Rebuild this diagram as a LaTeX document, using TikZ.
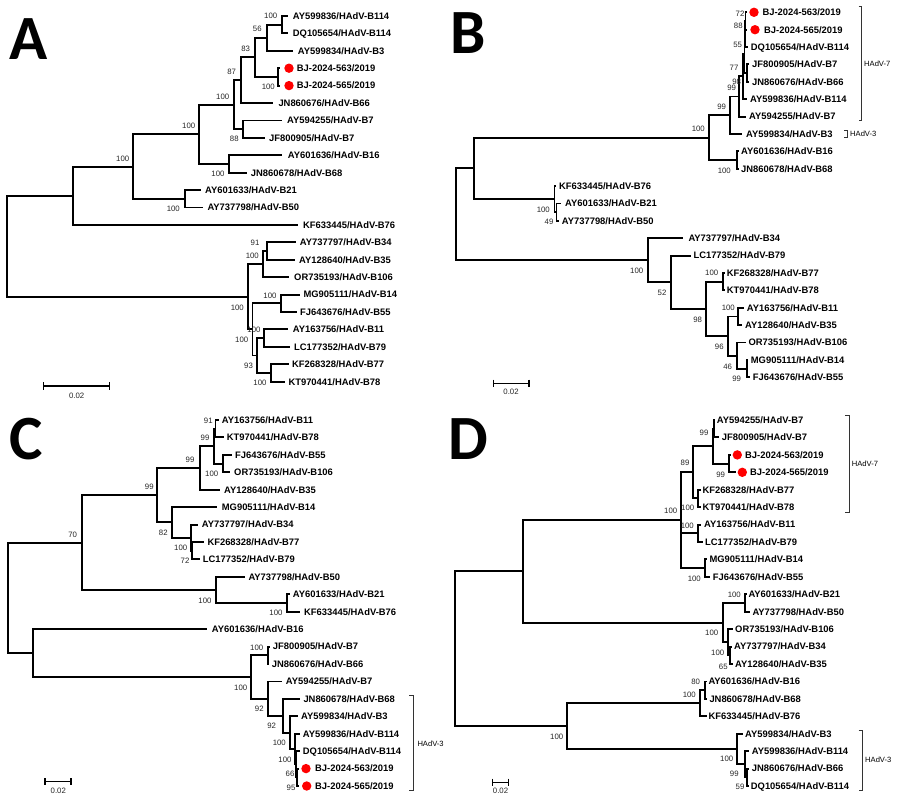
\documentclass[tikz,border=0pt]{standalone}
\usepackage{fontspec}
\setmainfont{Liberation Sans}
\newfontfamily\letterfont{Carlito}
\newcommand\tleaf[5]{\coordinate (#1) at (#3,#2); \node[lab] (#1l) at (#4,#2) {#5};}
\newcommand\bstr[4]{\node[bs] (#1) at (#2,#3) {#4};}
\newcommand\rdot[3]{\node[rdotst] (#1) at (#2,#3) {};}
\tikzset{
  br/.style={line width=1.95pt, line join=miter},
  lab/.style={anchor=west, inner sep=0pt, font=\bfseries\fontsize{9.4}{10}\selectfont, text height=6.7pt, text depth=0pt},
  bs/.style={inner sep=0pt, font=\fontsize{7.8}{8}\selectfont, text=black!85},
  rdotst/.style={circle, fill=red, inner sep=0pt, minimum size=9.4pt},
  brk/.style={line width=0.8pt, black!80},
  brklab/.style={anchor=west, inner sep=0pt, font=\fontsize{7.6}{8}\selectfont},
  plet/.style={font=\letterfont\bfseries\fontsize{63}{63}\selectfont, anchor=base west, inner sep=0pt},
  sbar/.style={line width=1.5pt},
}
\begin{document}
\begin{tikzpicture}[x=1pt,y=-1pt]
\useasboundingbox (0,0) rectangle (900,801);
\fill[white] (0,0) rectangle (900,801);

% ================= PANEL A =================
\node[plet] (LA) at (9,59) {A};
\tleaf{a1}{16}{287.7}{292.7}{AY599836/HAdV-B114}
\tleaf{a2}{33.4}{288.3}{292.7}{DQ105654/HAdV-B114}
\tleaf{a3}{50.8}{293.3}{297.7}{AY599834/HAdV-B3}
\tleaf{a4}{68.2}{280}{296.7}{BJ-2024-563/2019}
\tleaf{a5}{85.6}{280}{296.7}{BJ-2024-565/2019}
\tleaf{a6}{103.1}{273.3}{278.3}{JN860676/HAdV-B66}
\tleaf{a7}{120.5}{281.7}{287}{AY594255/HAdV-B7}
\tleaf{a8}{137.9}{265}{269}{JF800905/HAdV-B7}
\tleaf{a9}{155.3}{281.7}{287.7}{AY601636/HAdV-B16}
\tleaf{a10}{172.7}{246.7}{250.7}{JN860678/HAdV-B68}
\tleaf{a11}{190.1}{201}{205}{AY601633/HAdV-B21}
\tleaf{a12}{207.5}{203.3}{207.3}{AY737798/HAdV-B50}
\tleaf{a13}{224.9}{298}{303}{KF633445/HAdV-B76}
\tleaf{a14}{242.4}{295.7}{299.7}{AY737797/HAdV-B34}
\tleaf{a15}{259.8}{295}{299}{AY128640/HAdV-B35}
\tleaf{a16}{277.2}{289.3}{294}{OR735193/HAdV-B106}
\tleaf{a17}{294.6}{300}{303.3}{MG905111/HAdV-B14}
\tleaf{a18}{312}{296.7}{300}{FJ643676/HAdV-B55}
\tleaf{a19}{329.4}{288.3}{292.7}{AY163756/HAdV-B11}
\tleaf{a20}{346.8}{290}{294}{LC177352/HAdV-B79}
\tleaf{a21}{364.2}{289.3}{292}{KF268328/HAdV-B77}
\tleaf{a22}{381.7}{285}{288.3}{KT970441/HAdV-B78}
\rdot{a4d}{289}{68.2}
\rdot{a5d}{289}{85.6}
\coordinate (aB114) at (282.3,24.7);
\coordinate (a56) at (266.7,37.75);
\coordinate (aBJ) at (278.3,76.9);
\coordinate (a83) at (255,57.3);
\coordinate (a87) at (240.7,80.2);
\coordinate (a88) at (243.3,129.2);
\coordinate (aN1) at (234,104.7);
\coordinate (aB16) at (229,164);
\coordinate (aN2) at (199.3,134.35);
\coordinate (aB21) at (185,198.8);
\coordinate (aN3) at (133.3,166.6);
\coordinate (aN4) at (73.3,195.75);
\coordinate (a91) at (266.7,251.1);
\coordinate (aX) at (263.3,264.15);
\coordinate (aB14) at (281,303.3);
\coordinate (aB11) at (264.3,338.1);
\coordinate (aB77) at (271.2,372.95);
\coordinate (a93) at (257.3,355.5);
\coordinate (aY) at (252.5,329.4);
\coordinate (aLR) at (248.3,296.8);
\coordinate (aR) at (7.3,246.3);
\foreach \p/\c in {aR/aN4,aR/aLR,aN4/aN3,aN4/a13,aN3/aN2,aN3/aB21,aN2/aN1,aN2/aB16,
  aN1/a87,aN1/a88,a87/a83,a87/a6,a83/a56,a83/aBJ,a56/aB114,a56/a3,aB114/a1,aB114/a2,
  aBJ/a4,aBJ/a5,a88/a7,a88/a8,aB16/a9,aB16/a10,aB21/a11,aB21/a12,aLR/aX,aLR/aY,
  aX/a91,aX/a16,a91/a14,a91/a15,aY/aB14,aY/a93,aB14/a17,aB14/a18,a93/aB11,a93/aB77,
  aB11/a19,aB11/a20,aB77/a21,aB77/a22}
  \draw[br] (\p) |- (\c);
\bstr{aB114b}{270.7}{16}{100}
\bstr{a56b}{257.3}{29.3}{56}
\bstr{aBJb}{268.3}{87.3}{100}
\bstr{a83b}{245.7}{49.3}{83}
\bstr{a87b}{231.7}{71.7}{87}
\bstr{a88b}{234.3}{139.3}{88}
\bstr{aN1b}{222.7}{96.5}{100}
\bstr{aB16b}{218}{174}{100}
\bstr{aN2b}{188.7}{126}{100}
\bstr{aB21b}{173.3}{209.3}{100}
\bstr{aN3b}{122.7}{158.7}{100}
\bstr{a91b}{255}{243}{91}
\bstr{aXb}{252.3}{256}{100}
\bstr{aB14b}{270}{295.5}{100}
\bstr{aB11b}{254}{330}{100}
\bstr{aYb}{241.7}{340}{100}
\bstr{a93b}{248.5}{366}{93}
\bstr{aB77b}{260}{383.3}{100}
\bstr{aLRb}{237.3}{307.5}{100}
\coordinate (asL) at (43.3,386);
\coordinate (asR) at (109.3,386);
\draw[sbar] (asL) -- (asR);
\draw[sbar] ([yshift=3.7pt]asL) -- ([yshift=-3.7pt]asL);
\draw[sbar] ([yshift=3.7pt]asR) -- ([yshift=-3.7pt]asR);
\node[bs] (asT) at (76.7,395.5) {0.02};

% ================= PANEL B =================
\node[plet] (LB) at (450,53) {B};
\tleaf{b1}{12.3}{747}{762.3}{BJ-2024-563/2019}
\tleaf{b2}{29.7}{747}{764}{BJ-2024-565/2019}
\tleaf{b3}{47.1}{747.5}{750.7}{DQ105654/HAdV-B114}
\tleaf{b4}{64.4}{748.5}{752}{JF800905/HAdV-B7}
\tleaf{b5}{81.8}{748.5}{752}{JN860676/HAdV-B66}
\tleaf{b6}{99.2}{746.5}{750}{AY599836/HAdV-B114}
\tleaf{b7}{116.6}{745.5}{749}{AY594255/HAdV-B7}
\tleaf{b8}{134}{742}{746}{AY599834/HAdV-B3}
\tleaf{b9}{151.3}{738.5}{741}{AY601636/HAdV-B16}
\tleaf{b10}{168.7}{738.5}{741}{JN860678/HAdV-B68}
\tleaf{b11}{186.1}{555.5}{559}{KF633445/HAdV-B76}
\tleaf{b12}{203.5}{561}{565}{AY601633/HAdV-B21}
\tleaf{b13}{220.9}{558.5}{561.7}{AY737798/HAdV-B50}
\tleaf{b14}{238.3}{683.3}{688.3}{AY737797/HAdV-B34}
\tleaf{b15}{255.6}{690.5}{693.3}{LC177352/HAdV-B79}
\tleaf{b16}{273}{724.5}{726.7}{KF268328/HAdV-B77}
\tleaf{b17}{290.4}{724.5}{726.7}{KT970441/HAdV-B78}
\tleaf{b18}{307.8}{743.5}{746.7}{AY163756/HAdV-B11}
\tleaf{b19}{325.2}{742}{745}{AY128640/HAdV-B35}
\tleaf{b20}{342.5}{745.5}{748.3}{OR735193/HAdV-B106}
\tleaf{b21}{359.9}{748}{750.7}{MG905111/HAdV-B14}
\tleaf{b22}{377.3}{750}{752.7}{FJ643676/HAdV-B55}
\rdot{b1d}{754}{12.3}
\rdot{b2d}{755}{29.7}
\coordinate (bBJ) at (745.5,21);
\coordinate (b88) at (745,34.05);
\coordinate (bJF) at (747,73.1);
\coordinate (b55) at (744.5,53.6);
\coordinate (b77) at (743.3,76.4);
\coordinate (b99a) at (739.3,96.5);
\coordinate (b99b) at (730,115.25);
\coordinate (bB16) at (736.7,160);
\coordinate (bN) at (709,137.6);
\coordinate (b49) at (556.5,212.2);
\coordinate (bB76) at (554.5,199.15);
\coordinate (bU) at (474.3,168.4);
\coordinate (bB77) at (723.3,281.7);
\coordinate (bB11) at (738.3,316.5);
\coordinate (b99) at (746.7,368.6);
\coordinate (b46) at (736.7,355.55);
\coordinate (b96) at (728.3,336);
\coordinate (b98) at (706,308.85);
\coordinate (b52) at (670.7,282.2);
\coordinate (bL) at (648.3,260.25);
\coordinate (bR) at (456.3,214.3);
\foreach \p/\c in {bR/bU,bR/bL,bU/bN,bU/bB76,bN/b99b,bN/bB16,b99b/b99a,b99b/b8,
  b99a/b77,b99a/b7,b77/b55,b77/b6,b55/b88,b55/bJF,b88/bBJ,b88/b3,bBJ/b1,bBJ/b2,
  bJF/b4,bJF/b5,bB16/b9,bB16/b10,bB76/b11,bB76/b49,b49/b12,b49/b13,bL/b14,bL/b52,
  b52/b15,b52/b98,b98/bB77,b98/b96,bB77/b16,bB77/b17,b96/bB11,b96/b46,bB11/b18,
  bB11/b19,b46/b20,b46/b99,b99/b21,b99/b22}
  \draw[br] (\p) |- (\c);
\bstr{bBJb}{740}{13.3}{72}
\bstr{b88b}{738.3}{26}{88}
\bstr{b55b}{737.7}{45}{55}
\bstr{b77b}{734}{68.3}{77}
\bstr{bJFb}{736.7}{82.3}{98}
\bstr{b99ab}{731.7}{88.3}{99}
\bstr{b99bb}{721.7}{106.7}{99}
\bstr{bNb}{698.3}{129.3}{100}
\bstr{bB16b}{724.3}{170.7}{100}
\bstr{bB76b}{543.3}{210}{100}
\bstr{b49b}{549}{221.7}{49}
\bstr{bLb}{636.7}{270.7}{100}
\bstr{b52b}{662}{293.3}{52}
\bstr{b98b}{697.7}{320}{98}
\bstr{bB77b}{711.7}{273.3}{100}
\bstr{bB11b}{728.3}{308.3}{100}
\bstr{b96b}{719.3}{346.7}{96}
\bstr{b46b}{727.7}{366.7}{46}
\bstr{b99b}{736.7}{379.3}{99}
\coordinate (bk7t) at (861.7,6.7);
\coordinate (bk7b) at (861.7,120.7);
\draw[brk] ([xshift=-3pt]bk7t) -- (bk7t) -- (bk7b) -- ([xshift=-3pt]bk7b);
\node[brklab] (bk7l) at (864,64) {HAdV-7};
\coordinate (bk3t) at (847,130.7);
\coordinate (bk3b) at (847,137.7);
\draw[brk] ([xshift=-3pt]bk3t) -- (bk3t) -- (bk3b) -- ([xshift=-3pt]bk3b);
\node[brklab] (bk3l) at (850,134) {HAdV-3};
\coordinate (bsL) at (493.3,383.3);
\coordinate (bsR) at (529,383.3);
\draw[sbar] (bsL) -- (bsR);
\draw[sbar] ([yshift=3.7pt]bsL) -- ([yshift=-3.7pt]bsL);
\draw[sbar] ([yshift=3.7pt]bsR) -- ([yshift=-3.7pt]bsR);
\node[bs] (bsT) at (511,391.5) {0.02};

% ================= PANEL C =================
\node[plet] (LC) at (9,459) {C};
\tleaf{c1}{420}{219}{221.7}{AY163756/HAdV-B11}
\tleaf{c2}{437.4}{224}{226.7}{KT970441/HAdV-B78}
\tleaf{c3}{454.9}{231.7}{235}{FJ643676/HAdV-B55}
\tleaf{c4}{472.3}{230}{234}{OR735193/HAdV-B106}
\tleaf{c5}{489.7}{220}{224}{AY128640/HAdV-B35}
\tleaf{c6}{507.2}{216.7}{221.7}{MG905111/HAdV-B14}
\tleaf{c7}{524.6}{198.3}{201.7}{AY737797/HAdV-B34}
\tleaf{c8}{542}{204}{207.3}{KF268328/HAdV-B77}
\tleaf{c9}{559.4}{200}{202.7}{LC177352/HAdV-B79}
\tleaf{c10}{576.9}{245}{248.3}{AY737798/HAdV-B50}
\tleaf{c11}{594.3}{290}{292.7}{AY601633/HAdV-B21}
\tleaf{c12}{611.7}{300}{304}{KF633445/HAdV-B76}
\tleaf{c13}{629.2}{206.7}{211.7}{AY601636/HAdV-B16}
\tleaf{c14}{646.6}{270}{272.7}{JF800905/HAdV-B7}
\tleaf{c15}{664}{269}{271.7}{JN860676/HAdV-B66}
\tleaf{c16}{681.5}{281.7}{285.7}{AY594255/HAdV-B7}
\tleaf{c17}{698.9}{300}{303.3}{JN860678/HAdV-B68}
\tleaf{c18}{716.3}{297.7}{301}{AY599834/HAdV-B3}
\tleaf{c19}{733.7}{300}{302.7}{AY599836/HAdV-B114}
\tleaf{c20}{751.2}{300}{302.7}{DQ105654/HAdV-B114}
\tleaf{c21}{768.6}{299}{315}{BJ-2024-563/2019}
\tleaf{c22}{786}{299}{315}{BJ-2024-565/2019}
\rdot{c21d}{306}{768.6}
\rdot{c22d}{306.7}{786}
\coordinate (c91) at (215.5,428.7);
\coordinate (cB55) at (222.7,463.6);
\coordinate (c99a) at (214.3,446.15);
\coordinate (c99b) at (200,467.9);
\coordinate (c72) at (191.7,550.7);
\coordinate (cB34) at (190.7,537.65);
\coordinate (c82) at (171.7,522.4);
\coordinate (c99c) at (157.3,495.15);
\coordinate (cB21) at (287.3,603);
\coordinate (cB50) at (216,589.95);
\coordinate (c70) at (81.7,542.55);
\coordinate (c95) at (297,777.3);
\coordinate (c66) at (296,764.25);
\coordinate (c100d) at (295,748.95);
\coordinate (c100c) at (290,732.6);
\coordinate (c92b) at (282.7,715.75);
\coordinate (c92a) at (268.3,698.6);
\coordinate (cJF) at (268.3,655.3);
\coordinate (cB7) at (250.7,676.95);
\coordinate (cLow) at (33.3,653.1);
\coordinate (cR) at (8.3,597.8);
\foreach \p/\c in {cR/c70,cR/cLow,c70/c99c,c70/cB50,c99c/c99b,c99c/c82,c99b/c99a,c99b/c5,
  c99a/c91,c99a/cB55,c91/c1,c91/c2,cB55/c3,cB55/c4,c82/c6,c82/cB34,cB34/c7,cB34/c72,
  c72/c8,c72/c9,cB50/c10,cB50/cB21,cB21/c11,cB21/c12,cLow/c13,cLow/cB7,cB7/cJF,cB7/c92a,
  cJF/c14,cJF/c15,c92a/c16,c92a/c92b,c92b/c17,c92b/c100c,c100c/c18,c100c/c100d,
  c100d/c19,c100d/c66,c66/c20,c66/c95,c95/c21,c95/c22}
  \draw[br] (\p) |- (\c);
\bstr{c91b}{208.3}{421}{91}
\bstr{c99ab}{205}{437.7}{99}
\bstr{cB55b}{211.7}{474}{100}
\bstr{c99bb}{190}{460}{99}
\bstr{c99cb}{149.3}{487.3}{99}
\bstr{c82b}{163.3}{532.7}{82}
\bstr{cB34b}{180.7}{548.3}{100}
\bstr{c72b}{185}{561}{72}
\bstr{c70b}{72.7}{535}{70}
\bstr{cB50b}{205}{600.7}{100}
\bstr{cB21b}{276}{613.3}{100}
\bstr{cJFb}{256.7}{647.7}{100}
\bstr{cB7b}{240.7}{688.3}{100}
\bstr{c92ab}{259.3}{709.3}{92}
\bstr{c92bb}{271.7}{726}{92}
\bstr{c100cb}{279.3}{743.3}{100}
\bstr{c100db}{285}{760}{100}
\bstr{c66b}{290}{774}{66}
\bstr{c95b}{291}{788.3}{95}
\coordinate (ck3t) at (413.3,695);
\coordinate (ck3b) at (413.3,790.7);
\draw[brk] ([xshift=-4pt]ck3t) -- (ck3t) -- (ck3b) -- ([xshift=-4pt]ck3b);
\node[brklab] (ck3l) at (417.3,743.3) {HAdV-3};
\coordinate (csL) at (45,781.7);
\coordinate (csR) at (71,781.7);
\draw[sbar] (csL) -- (csR);
\draw[sbar] ([yshift=3.7pt]csL) -- ([yshift=-3.7pt]csL);
\draw[sbar] ([yshift=3.7pt]csR) -- ([yshift=-3.7pt]csR);
\node[bs] (csT) at (58.3,791) {0.02};

% ================= PANEL D =================
\node[plet] (LD) at (448,459) {D};
\tleaf{d1}{420}{714.5}{716.7}{AY594255/HAdV-B7}
\tleaf{d2}{437.4}{719.3}{721.7}{JF800905/HAdV-B7}
\tleaf{d3}{454.9}{731}{745}{BJ-2024-563/2019}
\tleaf{d4}{472.3}{735.5}{750}{BJ-2024-565/2019}
\tleaf{d5}{489.7}{700.5}{702.3}{KF268328/HAdV-B77}
\tleaf{d6}{507.2}{700.5}{702.3}{KT970441/HAdV-B78}
\tleaf{d7}{524.6}{701}{704}{AY163756/HAdV-B11}
\tleaf{d8}{542}{702.5}{705}{LC177352/HAdV-B79}
\tleaf{d9}{559.4}{707}{709.3}{MG905111/HAdV-B14}
\tleaf{d10}{576.9}{710}{712.7}{FJ643676/HAdV-B55}
\tleaf{d11}{594.3}{746.5}{748.3}{AY601633/HAdV-B21}
\tleaf{d12}{611.7}{750}{752.3}{AY737798/HAdV-B50}
\tleaf{d13}{629.2}{732.5}{735}{OR735193/HAdV-B106}
\tleaf{d14}{646.6}{731.5}{734}{AY737797/HAdV-B34}
\tleaf{d15}{664}{732.5}{735}{AY128640/HAdV-B35}
\tleaf{d16}{681.5}{706.5}{708.3}{AY601636/HAdV-B16}
\tleaf{d17}{698.9}{707}{709.3}{JN860678/HAdV-B68}
\tleaf{d18}{716.3}{706.5}{708.3}{KF633445/HAdV-B76}
\tleaf{d19}{733.7}{742.5}{745}{AY599834/HAdV-B3}
\tleaf{d20}{751.2}{749}{751.7}{AY599836/HAdV-B114}
\tleaf{d21}{768.6}{749}{751.7}{JN860676/HAdV-B66}
\tleaf{d22}{786}{748.5}{750.7}{DQ105654/HAdV-B114}
\rdot{d3d}{737.3}{454.9}
\rdot{d4d}{742.3}{472.3}
\coordinate (d99a) at (713.8,428.7);
\coordinate (dBJ) at (729.3,463.6);
\coordinate (d7g) at (713,446.15);
\coordinate (dKF) at (698.3,498.45);
\coordinate (d89) at (693.3,472.3);
\coordinate (dB11) at (698.3,533.3);
\coordinate (dB14) at (705,568.15);
\coordinate (dU) at (681,520.2);
\coordinate (dB21) at (745,603);
\coordinate (d65) at (730,655.3);
\coordinate (dO) at (728.3,642.25);
\coordinate (dM) at (723.3,622.6);
\coordinate (dUp) at (523.3,571.4);
\coordinate (d80) at (705,690.2);
\coordinate (dB16g) at (700,703.25);
\coordinate (d59) at (747,777.3);
\coordinate (d99h) at (745,764.25);
\coordinate (dH3) at (737.3,749);
\coordinate (dLo) at (567.3,726.1);
\coordinate (dR) at (455,648.75);
\foreach \p/\c in {dR/dUp,dR/dLo,dUp/dU,dUp/dM,dU/d89,dU/dB11,dU/dB14,d89/d7g,d89/dKF,
  d7g/d99a,d7g/dBJ,d99a/d1,d99a/d2,dBJ/d3,dBJ/d4,dKF/d5,dKF/d6,dB11/d7,dB11/d8,
  dB14/d9,dB14/d10,dM/dB21,dM/dO,dB21/d11,dB21/d12,dO/d13,dO/d65,d65/d14,d65/d15,
  dLo/dB16g,dLo/dH3,dB16g/d80,dB16g/d18,d80/d16,d80/d17,dH3/d19,dH3/d99h,
  d99h/d20,d99h/d59,d59/d21,d59/d22}
  \draw[br] (\p) |- (\c);
\bstr{d99ab}{704}{433.3}{99}
\bstr{d89b}{685}{462.7}{89}
\bstr{dBJb}{720.7}{475}{99}
\bstr{dKFb}{687.7}{508.3}{100}
\bstr{dUb}{670.7}{511}{100}
\bstr{dB11b}{687.3}{526}{100}
\bstr{dB14b}{694.3}{579}{100}
\bstr{dB21b}{734.3}{595}{100}
\bstr{dMb}{711.7}{633.3}{100}
\bstr{dOb}{717.7}{652.7}{100}
\bstr{d65b}{723.3}{666.7}{65}
\bstr{d80b}{695.7}{681.7}{80}
\bstr{dB16gb}{689.3}{695}{100}
\bstr{dLob}{556.7}{736.7}{100}
\bstr{dH3b}{726.7}{759.3}{100}
\bstr{d99hb}{734.3}{774}{99}
\bstr{d59b}{740}{787.3}{59}
\coordinate (dk7t) at (849,415.7);
\coordinate (dk7b) at (849,512.7);
\draw[brk] ([xshift=-4pt]dk7t) -- (dk7t) -- (dk7b) -- ([xshift=-4pt]dk7b);
\node[brklab] (dk7l) at (851.7,464) {HAdV-7};
\coordinate (dk3t) at (862.7,730.7);
\coordinate (dk3b) at (862.7,790.7);
\draw[brk] ([xshift=-4pt]dk3t) -- (dk3t) -- (dk3b) -- ([xshift=-4pt]dk3b);
\node[brklab] (dk3l) at (865,760) {HAdV-3};
\coordinate (dsL) at (492.7,782.3);
\coordinate (dsR) at (508.3,782.3);
\draw[sbar] (dsL) -- (dsR);
\draw[sbar] ([yshift=3.7pt]dsL) -- ([yshift=-3.7pt]dsL);
\draw[sbar] ([yshift=3.7pt]dsR) -- ([yshift=-3.7pt]dsR);
\node[bs] (dsT) at (500.5,791) {0.02};
\end{tikzpicture}
\end{document}
